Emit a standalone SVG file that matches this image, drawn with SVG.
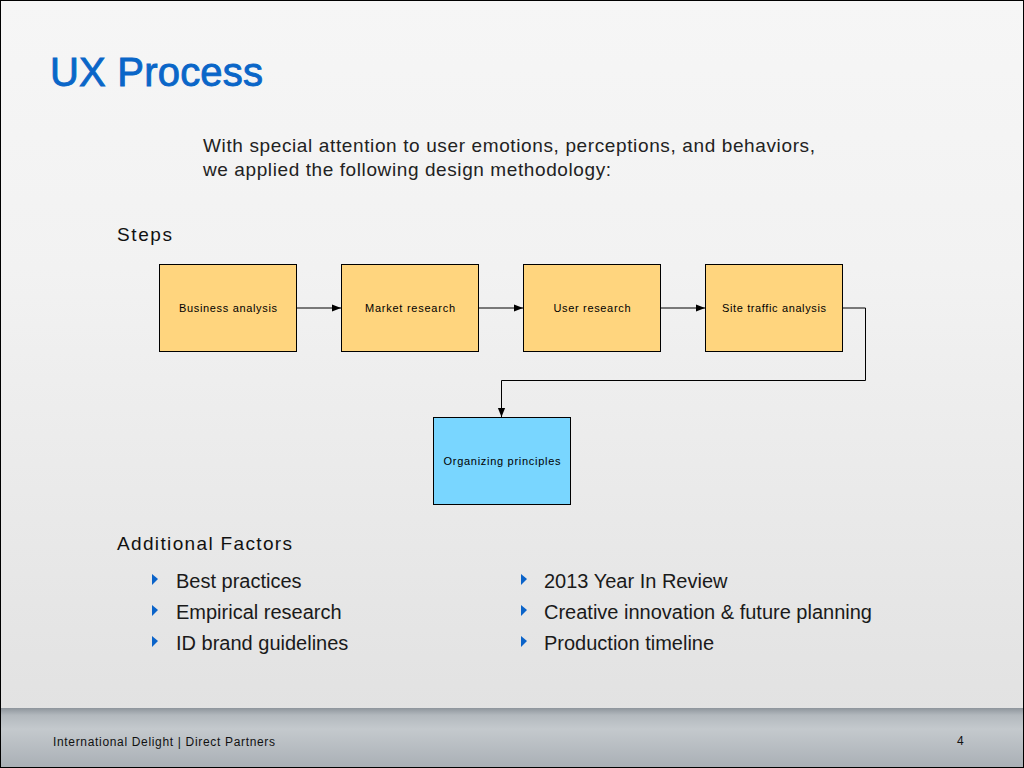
<svg xmlns="http://www.w3.org/2000/svg" width="1024" height="768" viewBox="0 0 1024 768">
<defs>
<linearGradient id="bg" x1="0" y1="0" x2="0" y2="1">
<stop offset="0" stop-color="#f6f6f6"/>
<stop offset="0.35" stop-color="#f2f2f2"/>
<stop offset="1" stop-color="#e0e0e0"/>
</linearGradient>
<linearGradient id="ft" x1="0" y1="0" x2="0" y2="1">
<stop offset="0" stop-color="#8e959c"/>
<stop offset="0.12" stop-color="#b3b9be"/>
<stop offset="0.35" stop-color="#c4c9cd"/>
<stop offset="1" stop-color="#a9afb5"/>
</linearGradient>
<marker id="arr" viewBox="0 0 10 10" refX="10" refY="5" markerWidth="9" markerHeight="9" markerUnits="userSpaceOnUse" orient="auto">
<path d="M0,1 L10,5 L0,9 z" fill="#000"/>
</marker>
<style>
.box{stroke:#000;stroke-width:1}
.orange{fill:#ffd57e}
.blue{fill:#79d6ff}
.bt{font-family:"Liberation Sans",Arial,sans-serif;font-size:11px;fill:#000;text-anchor:middle}
.conn{fill:none;stroke:#000;stroke-width:1}
.body{font-family:"Liberation Sans",Arial,sans-serif;fill:#222}
.head{font-family:"Liberation Sans",Arial,sans-serif;font-size:19px;fill:#111}
.bul{font-family:"Liberation Sans",Arial,sans-serif;font-size:20px;fill:#1a1a1a}
.tri{fill:#0a63c9}
</style>
</defs>
<rect x="0" y="0" width="1024" height="768" fill="url(#bg)"/>
<rect x="0" y="708" width="1024" height="60" fill="url(#ft)"/>
<rect x="0.5" y="0.5" width="1023" height="767" fill="none" stroke="#000" stroke-width="1"/>

<text x="50" y="86" font-family="'Liberation Sans',Arial,sans-serif" font-size="40" fill="#0a66c8" stroke="#0a66c8" stroke-width="0.9" textLength="213">UX Process</text>
<text class="body" x="203" y="152" font-size="19" textLength="612">With special attention to user emotions, perceptions, and behaviors,</text>
<text class="body" x="203" y="176" font-size="19" textLength="408">we applied the following design methodology:</text>
<text class="head" x="117" y="241" textLength="55">Steps</text>

<g id="connectors">
<line class="conn" x1="297" y1="308" x2="341" y2="308" marker-end="url(#arr)"/>
<line class="conn" x1="479" y1="308" x2="523" y2="308" marker-end="url(#arr)"/>
<line class="conn" x1="661" y1="308" x2="705" y2="308" marker-end="url(#arr)"/>
<polyline class="conn" points="843,308 865.5,308 865.5,380.5 501.5,380.5 501.5,417" marker-end="url(#arr)"/>
</g>

<g id="business-analysis">
<rect class="box orange" x="159.5" y="264.5" width="137" height="87"/>
<text class="bt" x="228" y="312" textLength="98">Business analysis</text>
</g>
<g id="market-research">
<rect class="box orange" x="341.5" y="264.5" width="137" height="87"/>
<text class="bt" x="410" y="312" textLength="90">Market research</text>
</g>
<g id="user-research">
<rect class="box orange" x="523.5" y="264.5" width="137" height="87"/>
<text class="bt" x="592" y="312" textLength="77">User research</text>
</g>
<g id="site-traffic-analysis">
<rect class="box orange" x="705.5" y="264.5" width="137" height="87"/>
<text class="bt" x="774" y="312" textLength="104">Site traffic analysis</text>
</g>
<g id="organizing-principles">
<rect class="box blue" x="433.5" y="417.5" width="137" height="87"/>
<text class="bt" x="502" y="465" textLength="117">Organizing principles</text>
</g>

<text class="head" x="117" y="550" textLength="175">Additional Factors</text>
<g id="bullets">
<path class="tri" d="M152,574 L158,579 L152,585 z"/>
<path class="tri" d="M152,605 L158,610 L152,616 z"/>
<path class="tri" d="M152,636 L158,641 L152,647 z"/>
<path class="tri" d="M521,574 L527,579 L521,585 z"/>
<path class="tri" d="M521,605 L527,610 L521,616 z"/>
<path class="tri" d="M521,636 L527,641 L521,647 z"/>
<text class="bul" x="176" y="588">Best practices</text>
<text class="bul" x="176" y="619">Empirical research</text>
<text class="bul" x="176" y="650">ID brand guidelines</text>
<text class="bul" x="544" y="588">2013 Year In Review</text>
<text class="bul" x="544" y="619">Creative innovation &amp; future planning</text>
<text class="bul" x="544" y="650">Production timeline</text>
</g>

<text x="53" y="746" font-family="'Liberation Sans',Arial,sans-serif" font-size="12" fill="#111" textLength="222">International Delight | Direct Partners</text>
<text x="957" y="745" font-family="'Liberation Sans',Arial,sans-serif" font-size="12" fill="#111">4</text>
</svg>
